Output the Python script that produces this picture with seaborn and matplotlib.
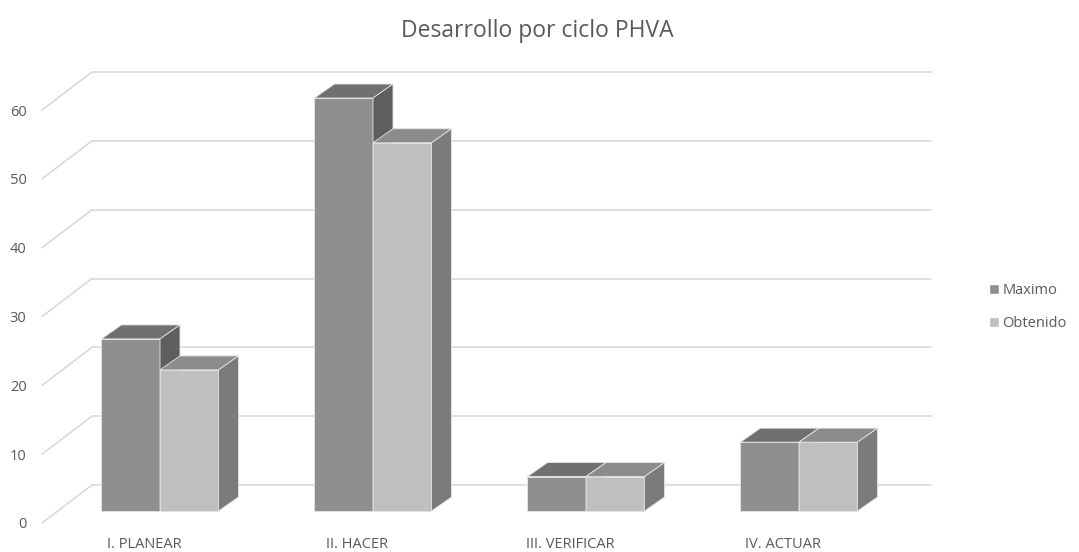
import pandas as pd
import matplotlib.pyplot as plt
import seaborn as sns
from matplotlib.patches import Polygon

# Data
categories = ["I. PLANEAR", "II. HACER", "III. VERIFICAR", "IV. ACTUAR"]
maximo = [25, 60, 5, 10]
obtenido = [20.5, 53.5, 5, 10]
series = ["Maximo", "Obtenido"]
y_ticks = [0, 10, 20, 30, 40, 50, 60]

df = pd.DataFrame({
    "Fase": categories * 2,
    "Serie": ["Maximo"] * len(categories) + ["Obtenido"] * len(categories),
    "Valor": maximo + obtenido,
})

sns.set_theme(style="white")
plt.rcParams['font.family'] = ['Open Sans', 'DejaVu Sans']

front = {"Maximo": "#8F8F8F", "Obtenido": "#BFBFBF"}
top = {"Maximo": "#707070", "Obtenido": "#8C8C8C"}
side = {"Maximo": "#5E5E5E", "Obtenido": "#7B7B7B"}
grid_col = "#D9D9D9"
text_col = "#595959"

# pixel mapping used to place the axes (category centre 0 -> 160px, 213px per category;
# value 0 -> 511px, 6.883px per unit)
W, H = 1079, 552
xpx0, xs = 160, 213
ypx0, ys = 511, 6.883
xlim = (-0.62, 3.68)
ylim = (-3, 66)

fig = plt.figure(figsize=(W / 100, H / 100), dpi=100)
left = (xpx0 + xlim[0] * xs) / W
right = (xpx0 + xlim[1] * xs) / W
bottom = 1 - (ypx0 - ylim[0] * ys) / H
topf = 1 - (ypx0 - ylim[1] * ys) / H
ax = fig.add_axes([left, bottom, right - left, topf - bottom])

# 3D offsets in data units
bar_dx, bar_dy = 20 / xs, 14 / ys        # bar depth
front_dx, front_dy = -16 / xs, -12 / ys  # front floor edge vs bar front
wall_dx, wall_dy = 34 / xs, 26 / ys      # back wall vs bar front
wall_x0 = (92 - xpx0) / xs
wall_x1 = (931 - xpx0) / xs
side_x0 = (42 - xpx0) / xs

# back wall gridlines and left wall lines
for v in y_ticks:
    ax.plot([wall_x0, wall_x1], [v + wall_dy, v + wall_dy], color=grid_col, lw=1.2, zorder=0)
    ax.plot([side_x0, wall_x0], [v + front_dy, v + wall_dy], color=grid_col, lw=1.2, zorder=0)

sns.barplot(data=df, x="Fase", y="Valor", hue="Serie", palette=front,
            width=0.55, gap=0, ax=ax, saturation=1, legend=True)

for k, cont in enumerate(ax.containers):
    name = series[k]
    z = 2 + k
    for p in cont.patches:
        p.set_zorder(z)
        p.set_edgecolor("#E6E6E6")
        p.set_linewidth(0.6)
        x, w, h = p.get_x(), p.get_width(), p.get_height()
        t = Polygon([(x, h), (x + w, h), (x + w + bar_dx, h + bar_dy), (x + bar_dx, h + bar_dy)],
                    closed=True, facecolor=top[name], edgecolor="#E6E6E6", lw=0.6, zorder=z + 0.1)
        s = Polygon([(x + w, 0), (x + w + bar_dx, bar_dy), (x + w + bar_dx, h + bar_dy), (x + w, h)],
                    closed=True, facecolor=side[name], edgecolor="#E6E6E6", lw=0.6, zorder=z + 0.1)
        ax.add_patch(t)
        ax.add_patch(s)

ax.set_xlim(*xlim)
ax.set_ylim(*ylim)
ax.set_xticks([i + front_dx for i in range(len(categories))])
ax.set_xticklabels(categories, fontsize=10.5, color=text_col)
ax.set_yticks([v + front_dy for v in y_ticks])
ax.set_yticklabels([str(v) for v in y_ticks], fontsize=10.5, color=text_col)
ax.tick_params(axis="x", length=0, pad=4)
ax.tick_params(axis="y", length=0, pad=1)
ax.set_xlabel("")
ax.set_ylabel("")
for sp in ax.spines.values():
    sp.set_visible(False)
ax.patch.set_alpha(0)

handles, labels = ax.get_legend_handles_labels()
ax.legend(handles, labels, loc="center left", bbox_to_anchor=(976 / W, 1 - 307 / H),
          bbox_transform=fig.transFigure, frameon=False, fontsize=10.5,
          handlelength=0.7, handleheight=0.7, handletextpad=0.2, labelspacing=1.2,
          labelcolor=text_col, title=None)

fig.text(537 / W, 1 - 31 / H, "Desarrollo por ciclo PHVA", ha="center", va="center",
         fontsize=16.5, color=text_col)

fig.savefig("out.png", dpi=100, facecolor="white")
